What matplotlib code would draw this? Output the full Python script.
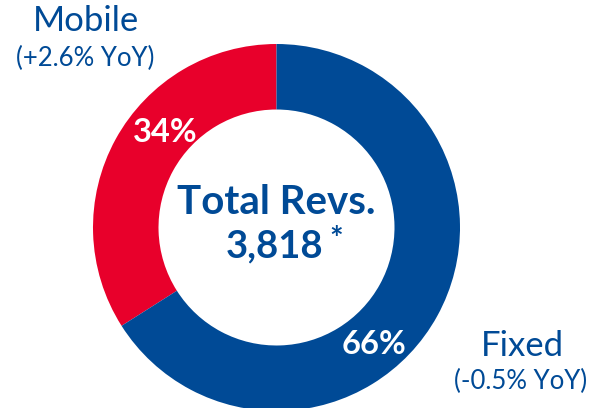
import matplotlib
matplotlib.use("Agg")
import matplotlib.pyplot as plt

segments = ["Mobile", "Fixed"]
shares = [34, 66]
yoy = ["+2.6%", "-0.5%"]
total_revenue = "3,818"
colors = ["#E8002B", "#004A96"]
text_blue = "#004A96"

W, H = 593, 408
fig = plt.figure(figsize=(W / 100, H / 100), dpi=100)
ax = fig.add_axes([0, 0, 1, 1])

cx, cy, r = 276.5, 408 - 227.5, 183.5
ax.pie(shares, colors=colors, startangle=90, counterclock=True,
       center=(cx, cy), radius=r,
       wedgeprops=dict(width=r * 0.357, linewidth=0))
ax.set_xlim(0, W)
ax.set_ylim(0, H)
ax.set_aspect("equal")
ax.axis("off")

font = "Lato"
# percentage labels on the ring
ax.text(165, 408 - 132, f"{shares[0]}%", color="white", fontsize=23.5,
        fontweight="bold", family=font, ha="center", va="center")
ax.text(374, 408 - 345, f"{shares[1]}%", color="white", fontsize=23.5,
        fontweight="bold", family=font, ha="center", va="center")

# centre total
ax.text(cx, 408 - 202, "Total Revs.", color=text_blue, fontsize=29,
        fontweight="bold", family=font, ha="center", va="center")
ax.text(275, 408 - 246, total_revenue, color=text_blue, fontsize=27.5,
        fontweight="bold", family=font, ha="center", va="center")
ax.text(336, 408 - 240, "*", color=text_blue, fontsize=23,
        fontweight="bold", family=font, ha="center", va="center")

# segment names with year-on-year change
ax.text(86, 408 - 21, segments[0], color=text_blue, fontsize=25,
        family=font, ha="center", va="center")
ax.text(85, 408 - 58, f"({yoy[0]} YoY)", color=text_blue, fontsize=18.5,
        family=font, ha="center", va="center")
ax.text(522, 408 - 346, segments[1], color=text_blue, fontsize=25,
        family=font, ha="center", va="center")
ax.text(521, 408 - 381, f"({yoy[1]} YoY)", color=text_blue, fontsize=18.5,
        family=font, ha="center", va="center")

fig.savefig("out.png", dpi=100)
